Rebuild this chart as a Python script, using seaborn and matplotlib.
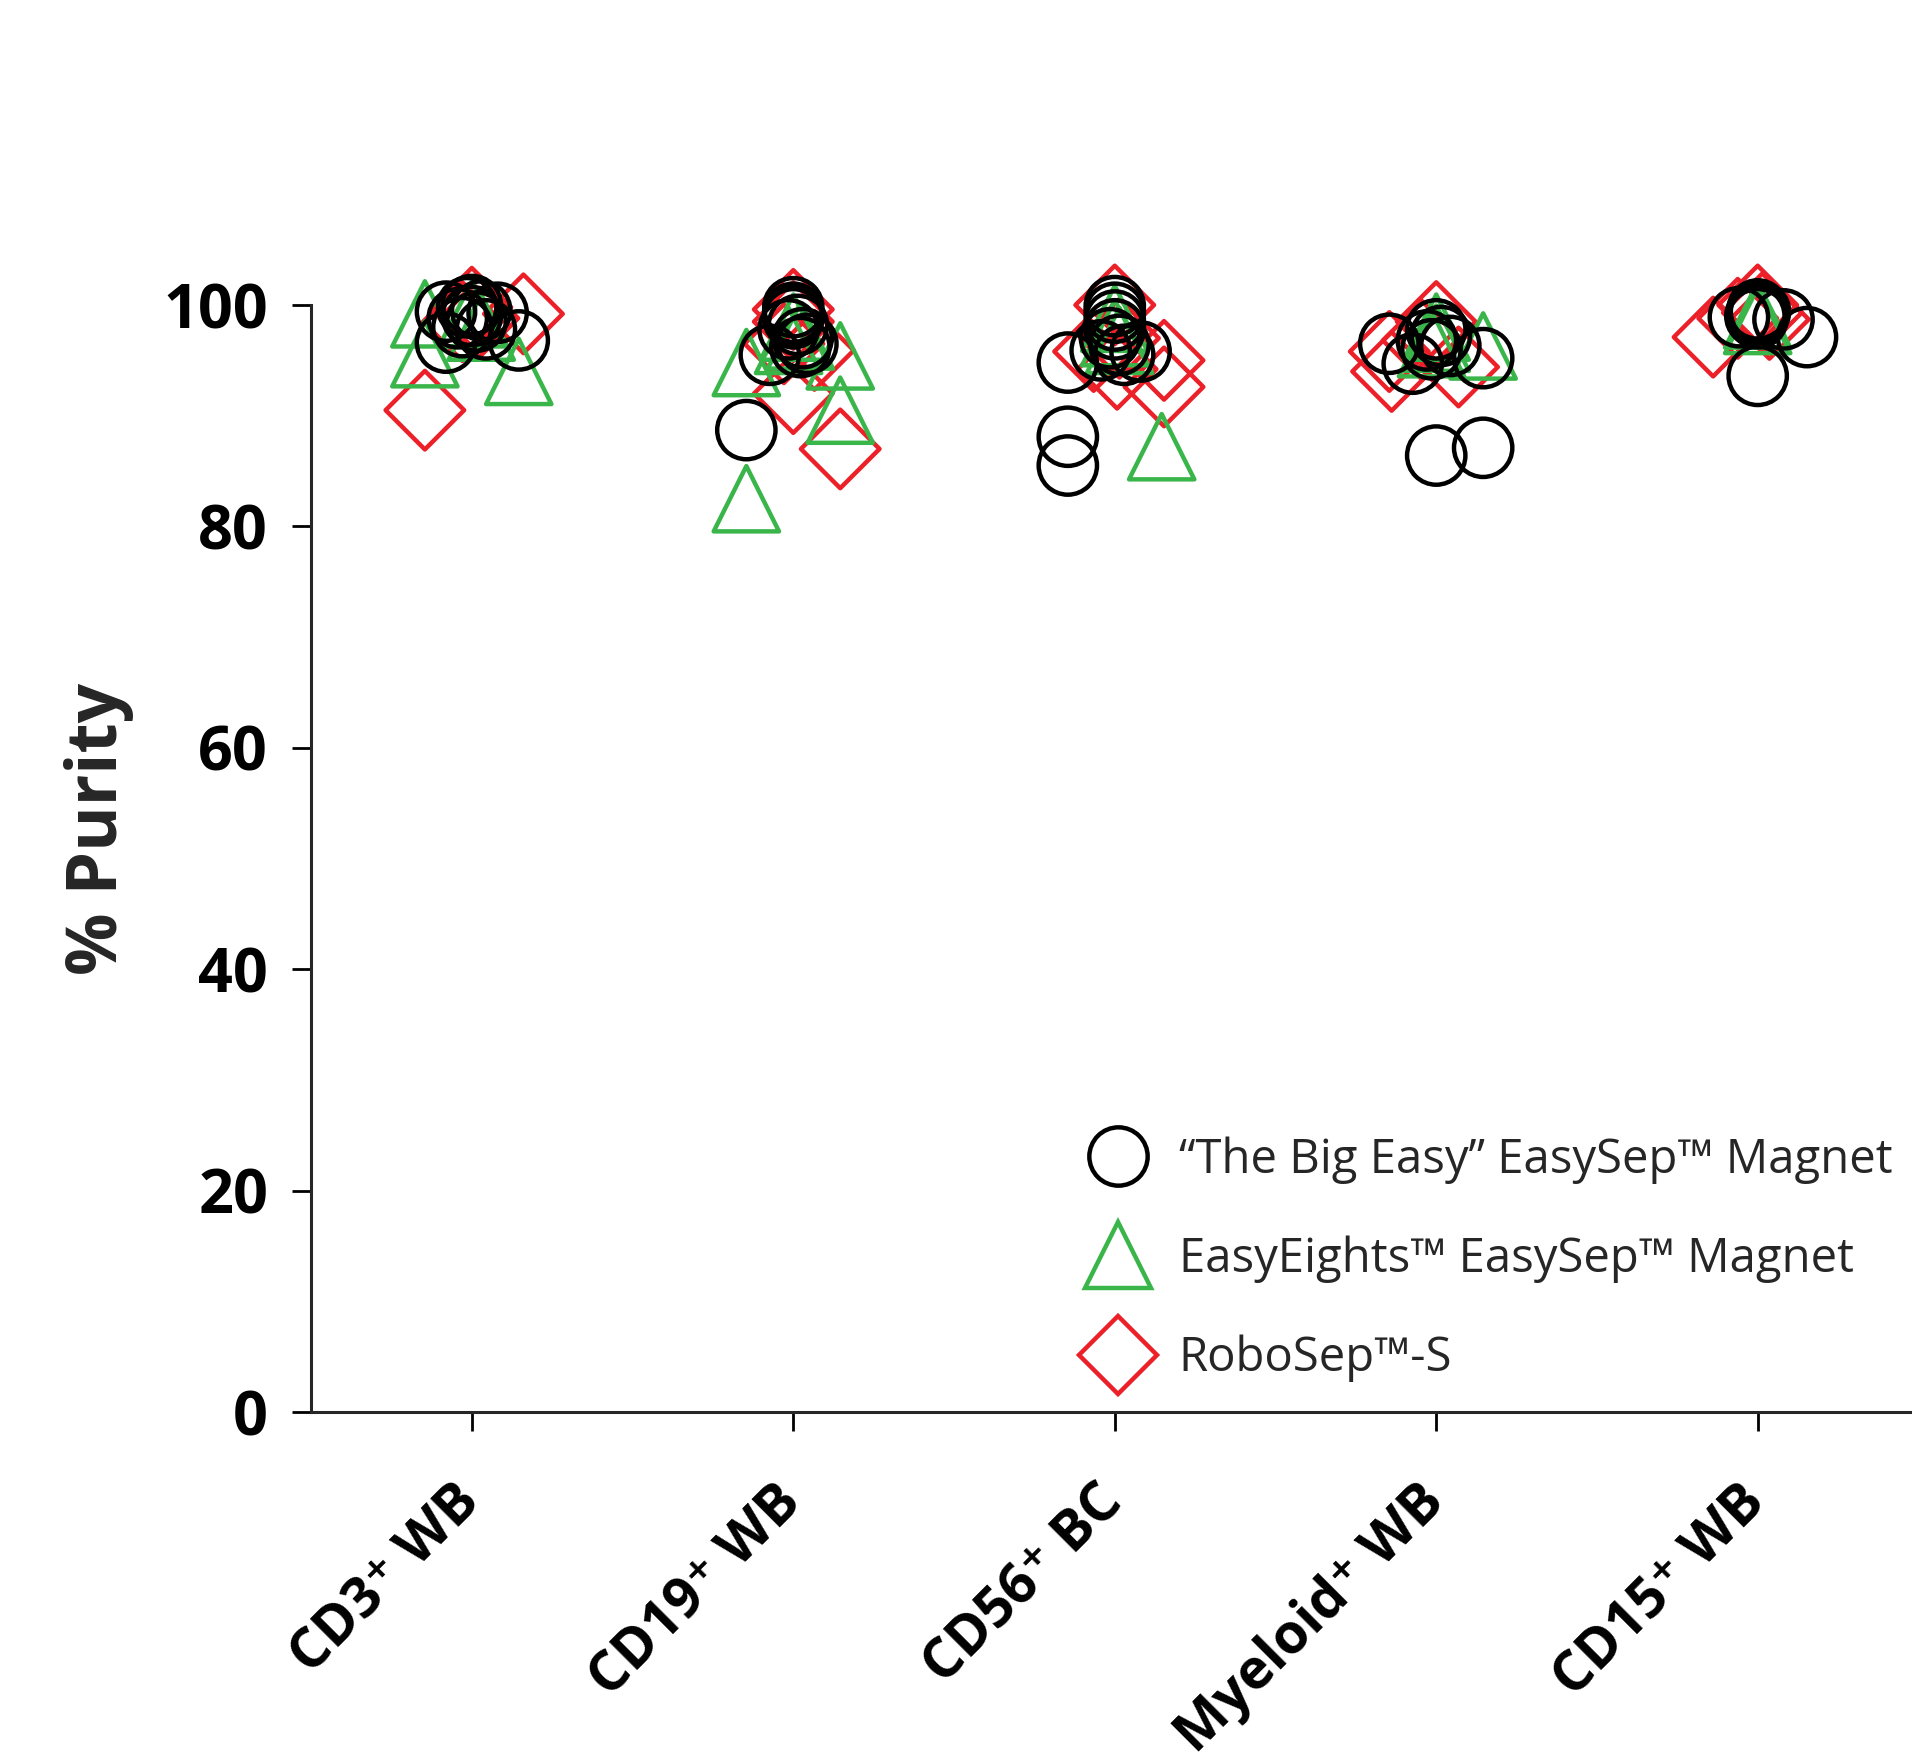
import matplotlib
matplotlib.use("Agg")
import matplotlib.pyplot as plt
from matplotlib.lines import Line2D
from matplotlib.transforms import ScaledTranslation
import seaborn as sns
import pandas as pd

# =======================
# Data
# =======================
categories = ["CD3⁺ WB", "CD19⁺ WB", "CD56⁺ BC", "Myeloid⁺ WB", "CD15⁺ WB"]
group_names = ["“The Big Easy” EasySep™ Magnet",
               "EasyEights™ EasySep™ Magnet",
               "RoboSep™-S"]

# "The Big Easy" EasySep Magnet (circles)
big_easy_cat = [0]*12 + [1]*11 + [2]*12 + [3]*10 + [4]*9
big_easy_pct = [99.4, 96.6, 96.8, 99.3, 99.8, 99.0, 98.5, 98.0, 99.5, 98.8, 97.8, 100.0,
                99.8, 99.3, 98.8, 98.2, 97.8, 97.0, 96.5, 95.5, 88.7, 99.0, 96.2,
                94.8, 88.1, 85.5, 99.9, 99.3, 98.6, 97.8, 97.0, 96.4, 95.9, 95.8, 95.5,
                96.5, 94.7, 97.8, 97.2, 96.8, 96.3, 96.0, 95.2, 86.4, 87.1,
                99.6, 99.2, 98.8, 99.0, 99.4, 98.7, 97.1, 93.6, 98.9]
big_easy_slot = [-1.1, -1.1, 2.0, 1.1, -0.2, 0, 0.2, -0.4, 0.4, -0.6, 0.6, 0,
                 0, 0, 0, 0.2, -0.2, 0.4, 0.6, -1.0, -2.0, 0, 0.3,
                 -2.0, -2.0, -2.0, 0, 0, 0, 0, -0.2, 0.2, -0.6, 1.1, 0.4,
                 -2.0, -1.0, 0, 0.2, -0.4, 0.6, -0.2, 2.0, 0, 2.0,
                 0, 0, 0, -0.1, 0.1, 1.1, 2.1, 0, -0.8]

# EasyEights EasySep Magnet (triangles)
easy_eights_cat = [0]*5 + [1]*7 + [2]*4 + [3]*4 + [4]*2
easy_eights_pct = [99.2, 95.6, 94.0, 99.2, 98.0,
                   82.5, 94.8, 95.4, 90.5, 98.0, 97.2, 96.8,
                   87.2, 98.8, 97.5, 96.8,
                   98.0, 96.3, 97.0, 96.5,
                   99.1, 98.6]
easy_eights_slot = [-2.0, -2.0, 2.0, 0, 0.4,
                    -2.0, -2.0, 2.0, 2.0, 0, 0.3, -0.2,
                    2.0, 0, 0, 0.2,
                    0, 2.0, 0, -0.2,
                    0, 0]

# RoboSep-S (diamonds)
robosep_cat = [0]*5 + [1]*6 + [2]*6 + [3]*5 + [4]*5
robosep_pct = [90.5, 99.2, 99.8, 98.8, 98.5,
               99.6, 98.5, 95.9, 92.0, 87.0, 96.5,
               100.0, 95.8, 95.0, 92.6, 94.2, 97.0,
               95.8, 94.0, 94.4, 98.5, 96.8,
               97.1, 98.8, 100.0, 98.7, 99.3]
robosep_slot = [-2.0, 2.2, 0, 0.3, -0.4,
                0, 0, 0.9, 0, 2.0, -0.4,
                0, -0.9, 2.1, 2.1, 0.1, 0.2,
                -2.0, -1.9, 0.95, 0, -0.6,
                -1.9, -0.85, 0, 0.5, 0.2]

colors = ["#000000", "#39b54a", "#ec2028"]
markers = ["o", "^", "D"]
sizes = [42, 47, 40]          # marker size in points
slot_width = 0.073            # horizontal spread step, in category units

frames = []
for name, cat, pct, slot in [(group_names[0], big_easy_cat, big_easy_pct, big_easy_slot),
                             (group_names[1], easy_eights_cat, easy_eights_pct, easy_eights_slot),
                             (group_names[2], robosep_cat, robosep_pct, robosep_slot)]:
    d = pd.DataFrame({"cat": cat, "pct": pct, "slot": slot})
    d["group"] = name
    d["x"] = d["cat"] + d["slot"] * slot_width
    frames.append(d)
df = pd.concat(frames, ignore_index=True)

# =======================
# Plot
# =======================
sns.set_style("ticks")
plt.rcParams['font.family'] = ['Open Sans', 'DejaVu Sans']

fig = plt.figure(figsize=(19.12, 17.62), dpi=100)
ax = fig.add_axes([0.1627, 0.1986, 0.8373, 0.6283])

# diamonds at the back, circles on top
for i in [2, 1, 0]:
    sub = df[df["group"] == group_names[i]]
    sns.scatterplot(data=sub, x="x", y="pct", ax=ax, marker=markers[i],
                    s=sizes[i] ** 2, color=colors[i], facecolor="none",
                    edgecolor=colors[i], linewidth=3.2, clip_on=False,
                    legend=False, zorder=3 + (2 - i))

ax.set_xlim(-0.5, 4.48)
ax.set_ylim(0, 100)
ax.set_yticks([0, 20, 40, 60, 80, 100])
ax.set_xticks(range(len(categories)))
ax.set_xticklabels(categories, rotation=45, ha="right", va="center",
                   rotation_mode="anchor", fontsize=40, fontweight="bold")
shift = ScaledTranslation(6 / 72, 0, fig.dpi_scale_trans)
for lab in ax.get_xticklabels():
    lab.set_transform(lab.get_transform() + shift)
for lab in ax.get_yticklabels():
    lab.set_fontsize(44)
    lab.set_fontweight("bold")

ax.tick_params(axis="y", length=14, width=2, pad=17, colors="black")
ax.tick_params(axis="x", length=14, width=2, pad=45, colors="black")
sns.despine(ax=ax)
ax.spines["left"].set_linewidth(2.2)
ax.spines["bottom"].set_linewidth(2.2)

ax.set_xlabel("")
ax.set_ylabel("% Purity", fontsize=50, fontweight="bold")
ax.yaxis.set_label_coords(-0.1106, 0.527)

handles = [Line2D([], [], linestyle="", marker=markers[i], markersize=sizes[i],
                  markerfacecolor="none", markeredgecolor=colors[i],
                  markeredgewidth=3.2) for i in range(3)]
ax.legend(handles, group_names, loc="upper left", bbox_to_anchor=(0.4891, 0.2493),
          frameon=False, fontsize=34, handlelength=1.0, handletextpad=0.79,
          labelspacing=1.097, borderpad=0, borderaxespad=0)

fig.savefig("out.png", dpi=100)
